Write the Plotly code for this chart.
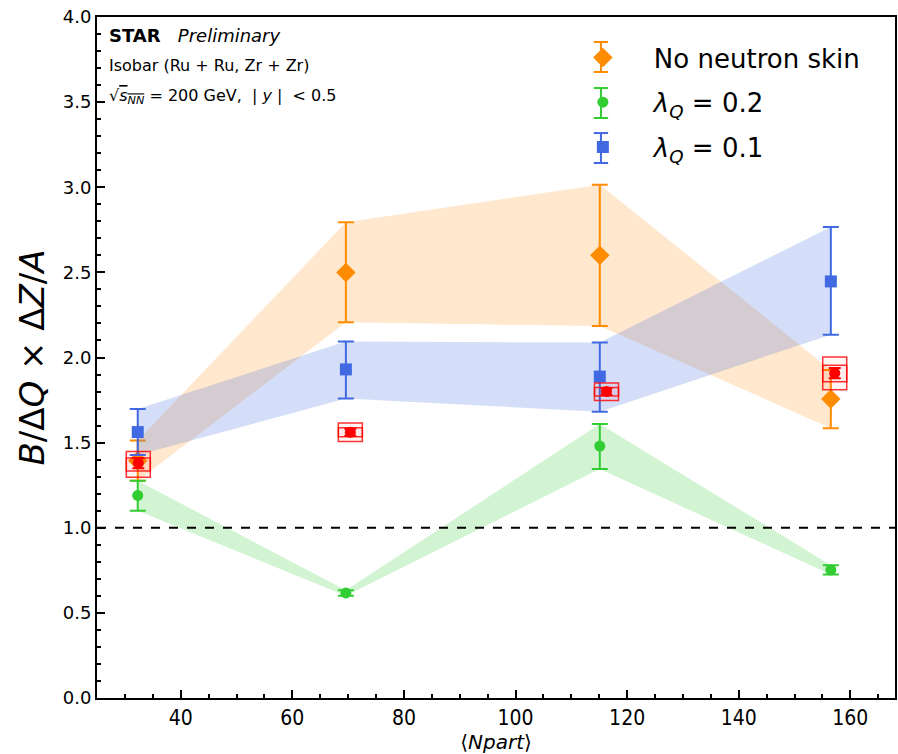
import plotly.graph_objects as go

# ---- data ----
npart_model = [32.3, 69.6, 115.1, 156.5]
npart_data = [32.4, 70.4, 116.3, 157.2]

noskin_y = [1.394, 2.50, 2.60, 1.756]
noskin_hi = [1.513, 2.794, 3.015, 1.927]
noskin_lo = [1.276, 2.207, 2.185, 1.585]

lq02_y = [1.19, 0.617, 1.48, 0.752]
lq02_hi = [1.276, 0.633, 1.61, 0.78]
lq02_lo = [1.10, 0.600, 1.345, 0.725]

lq01_y = [1.562, 1.93, 1.888, 2.447]
lq01_hi = [1.697, 2.094, 2.088, 2.767]
lq01_lo = [1.427, 1.759, 1.682, 2.134]

data_y = [1.38, 1.561, 1.80, 1.908]
data_stat = [0.03, 0.02, 0.02, 0.03]
data_sys_hi = [1.448, 1.615, 1.85, 2.003]
data_sys_lo = [1.296, 1.507, 1.748, 1.81]
box_halfwidth = 2.15

series_colors = ["#ff8c00", "#32cd32", "#4169e1"]

fig = go.Figure()

def add_series(x, y, hi, lo, color, band, symbol, size, name, group):
    fig.add_trace(go.Scatter(
        x=list(x) + list(x)[::-1], y=list(hi) + list(lo)[::-1],
        fill="toself", fillcolor=band, line=dict(width=0), mode="lines",
        hoverinfo="skip", showlegend=False, legendgroup=group))
    fig.add_trace(go.Scatter(
        x=x, y=y, mode="markers", name=name, legendgroup=group,
        marker=dict(symbol=symbol, size=size, color=color),
        error_y=dict(type="data", symmetric=False,
                     array=[h - v for h, v in zip(hi, y)],
                     arrayminus=[v - l for v, l in zip(y, lo)],
                     color=color, thickness=2, width=8)))

add_series(npart_model, noskin_y, noskin_hi, noskin_lo, series_colors[0],
           "rgba(255,165,60,0.25)", "diamond", 15, "No neutron skin", "g1")
add_series(npart_model, lq02_y, lq02_hi, lq02_lo, series_colors[1],
           "rgba(50,205,50,0.22)", "circle", 11, "<i>λ</i><sub><i>Q</i></sub> = 0.2", "g2")
add_series(npart_model, lq01_y, lq01_hi, lq01_lo, series_colors[2],
           "rgba(65,105,225,0.22)", "square", 12, "<i>λ</i><sub><i>Q</i></sub> = 0.1", "g3")

# systematic boxes for data (two overlapping rectangles)
for xv, hi, lo in zip(npart_data, data_sys_hi, data_sys_lo):
    d = (hi - lo) * 0.25
    for (y0, y1) in [(lo + d, hi), (lo, hi - d)]:
        fig.add_shape(type="rect", xref="x", yref="y",
                      x0=xv - box_halfwidth, x1=xv + box_halfwidth, y0=y0, y1=y1,
                      line=dict(color="rgba(255,0,0,0.8)", width=1.5),
                      fillcolor="rgba(255,0,0,0.04)")

fig.add_trace(go.Scatter(
    x=npart_data, y=data_y, mode="markers", showlegend=False,
    marker=dict(symbol="circle", size=11, color="#ff0000"),
    error_y=dict(type="data", array=data_stat, color="#ff0000", thickness=2, width=6)))

fig.add_hline(y=1.0, line=dict(color="black", width=2, dash="dash"))

# legend glyph whiskers (decoration, paper coords)
leg_x = 0.6315
leg_rows = [0.9413, 0.8737, 0.8076]
half_len = 0.022
cap = 0.009
for c, ry in zip(series_colors, leg_rows):
    fig.add_shape(type="line", xref="paper", yref="paper", x0=leg_x, x1=leg_x,
                  y0=ry - half_len, y1=ry + half_len, line=dict(color=c, width=2))
    for yy in (ry - half_len, ry + half_len):
        fig.add_shape(type="line", xref="paper", yref="paper", x0=leg_x - cap, x1=leg_x + cap,
                      y0=yy, y1=yy, line=dict(color=c, width=2))

# text annotations
fig.add_annotation(xref="paper", yref="paper", x=0.013, y=0.973, xanchor="left", yanchor="middle",
                   text="<b>STAR</b>   <i>Preliminary</i>", showarrow=False,
                   font=dict(family="DejaVu Sans", size=18, color="black"))
fig.add_annotation(xref="paper", yref="paper", x=0.013, y=0.929, xanchor="left", yanchor="middle",
                   text="Isobar (Ru + Ru, Zr + Zr)", showarrow=False,
                   font=dict(family="DejaVu Sans", size=16, color="black"))
fig.add_annotation(xref="paper", yref="paper", x=0.013, y=0.883, xanchor="left", yanchor="middle",
                   text="√<span style='text-decoration:overline'><i>s</i><sub><i>NN</i></sub></span> = 200 GeV,  | <i>y</i> |  < 0.5",
                   showarrow=False, font=dict(family="DejaVu Sans", size=16, color="black"))

fig.update_layout(
    width=898, height=754,
    margin=dict(l=97, r=1, t=17, b=56),
    paper_bgcolor="white", plot_bgcolor="white",
    font=dict(family="DejaVu Sans", color="black"),
    legend=dict(x=0.57, y=0.975, xanchor="left", yanchor="top",
                font=dict(family="DejaVu Sans", size=26, color="black"),
                bgcolor="rgba(0,0,0,0)", itemwidth=92, tracegroupgap=8),
    xaxis=dict(range=[25, 168], tickvals=[40, 60, 80, 100, 120, 140, 160],
               ticks="inside", ticklen=8, tickwidth=1.5, tickcolor="black",
               minor=dict(dtick=5, tick0=0, ticks="inside", ticklen=4, tickcolor="black"),
               showline=True, linecolor="black", linewidth=2, mirror=True,
               showgrid=False, zeroline=False,
               tickfont=dict(family="DejaVu Sans Condensed, DejaVu Sans", size=21),
               title=dict(text="⟨<i>Npart</i>⟩", font=dict(size=20), standoff=2)),
    yaxis=dict(range=[0, 4.0], dtick=0.5, tickformat=".1f",
               ticks="inside", ticklen=8, tickwidth=1.5, tickcolor="black",
               minor=dict(dtick=0.1, ticks="inside", ticklen=4, tickcolor="black"),
               showline=True, linecolor="black", linewidth=2, mirror=True,
               showgrid=False, zeroline=False,
               tickfont=dict(family="DejaVu Sans", size=18),
               title=dict(text="<i>B</i>/Δ<i>Q</i> × Δ<i>Z</i>/<i>A</i>", font=dict(size=34), standoff=8)),
)

fig.write_html("out.html")
